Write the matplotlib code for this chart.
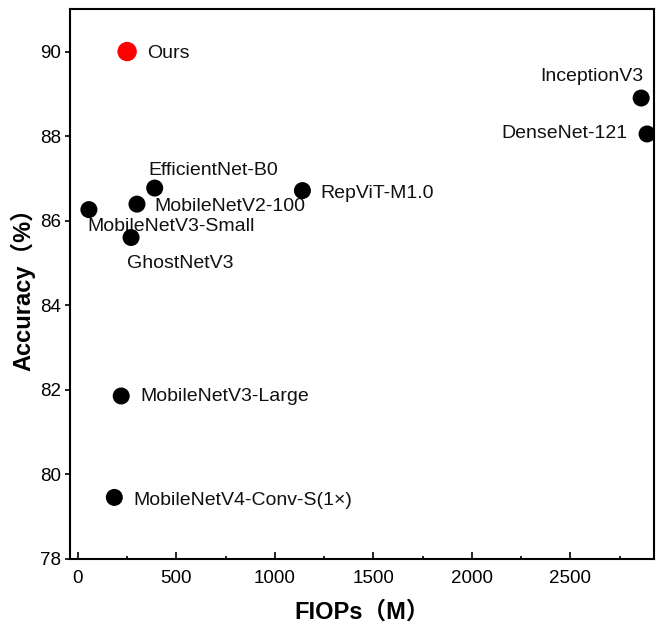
import matplotlib
matplotlib.use("Agg")
import matplotlib.pyplot as plt
from matplotlib.ticker import MultipleLocator

plt.rcParams['font.family'] = ['Liberation Sans', 'Noto Sans CJK SC', 'DejaVu Sans']

models = ["Ours", "EfficientNet-B0", "MobileNetV2-100", "MobileNetV3-Small", "GhostNetV3",
          "RepViT-M1.0", "InceptionV3", "DenseNet-121", "MobileNetV3-Large", "MobileNetV4-Conv-S(1×)"]
flops = [250, 390, 300, 56, 270, 1140, 2860, 2890, 220, 185]
accuracy = [90.0, 86.77, 86.39, 86.26, 85.6, 86.71, 88.9, 88.05, 81.85, 79.45]

# label placement (offset in pixels, horizontal alignment)
px = 0.72
label_style = {
    "Ours": (20, -1.5, 'left'),
    "EfficientNet-B0": (-6.6, 18, 'left'),
    "MobileNetV2-100": (17.7, -2.5, 'left'),
    "MobileNetV3-Small": (-2, -17, 'left'),
    "GhostNetV3": (-4, -25.6, 'left'),
    "RepViT-M1.0": (18.4, -2.6, 'left'),
    "InceptionV3": (2.7, 22, 'right'),
    "DenseNet-121": (-19.3, 0, 'right'),
    "MobileNetV3-Large": (19, -0.6, 'left'),
    "MobileNetV4-Conv-S(1×)": (19, -2.7, 'left'),
}

fig = plt.figure(figsize=(6.68, 6.32), dpi=100)
ax = fig.add_axes([0.1048, 0.116, 0.979 - 0.1048, 0.9853 - 0.116])

for m, x, y in zip(models, flops, accuracy):
    if m == "Ours":
        ax.scatter(x, y, s=195, color='#ff0000', zorder=3, edgecolors='none')
    else:
        ax.scatter(x, y, s=150, color='black', zorder=3, edgecolors='none')
    dx, dy, ha = label_style[m]
    ax.annotate(m, (x, y), xytext=(dx * px, dy * px), textcoords='offset points',
                ha=ha, va='center', fontsize=14, color='#111111')

ax.set_xlim(-40, 2925)
ax.set_ylim(78, 91)
ax.xaxis.set_major_locator(MultipleLocator(500))
ax.xaxis.set_minor_locator(MultipleLocator(250))
ax.yaxis.set_major_locator(MultipleLocator(2))

for s in ax.spines.values():
    s.set_linewidth(1.5)

ax.tick_params(axis='x', which='major', direction='in', length=5, width=1.2, labelsize=13.5, pad=8)
ax.tick_params(axis='x', which='minor', direction='in', length=2.5, width=1.2)
ax.tick_params(axis='y', which='major', direction='out', length=3.5, width=1.2, labelsize=13.5, pad=3)

ax.set_xlabel("FIOPs（M）", fontsize=17, fontweight='bold', labelpad=10)
ax.set_ylabel("Accuracy（%）", fontsize=17, fontweight='bold', labelpad=3)

fig.savefig("out.png", dpi=100)
